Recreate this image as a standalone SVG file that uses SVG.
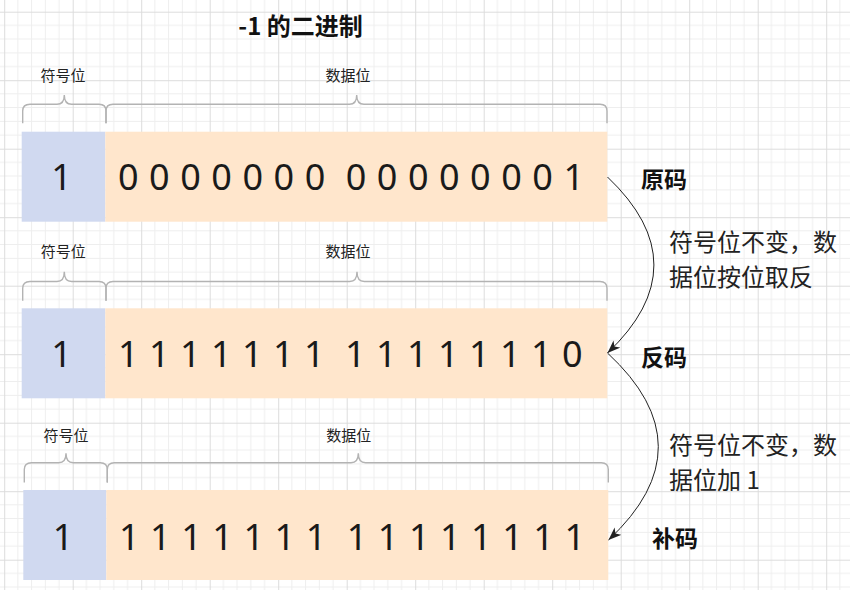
<svg xmlns="http://www.w3.org/2000/svg" width="850" height="590" viewBox="0 0 850 590">
  <style>
    .sign { fill: #D0D9F0; }
    .data { fill: #FFE6CC; }
    .bits { font-family: "Noto Sans", "Liberation Sans", sans-serif; font-size: 36px; fill: #1a1a1a; white-space: pre; }
    .brace { fill: none; stroke: #b3b3b3; stroke-width: 1.4; }
    .blabel { font-family: "Noto Sans CJK SC", "Noto Sans", sans-serif; font-size: 15px; fill: #222; text-anchor: middle; }
    .title { font-family: "Noto Sans CJK SC", "Noto Sans", sans-serif; font-size: 24px; font-weight: bold; fill: #111; text-anchor: middle; }
    .kind { font-family: "Noto Sans CJK SC", "Noto Sans", sans-serif; font-size: 23px; font-weight: bold; fill: #111; }
    .note { font-family: "Noto Sans CJK SC", "Noto Sans", sans-serif; font-size: 24px; fill: #222; }
    .conn { fill: none; stroke: #222; stroke-width: 1; }
  </style>
  <defs>
    <pattern id="grid" patternUnits="userSpaceOnUse" x="4.2" y="11.7" width="68.5" height="68.5">
      <path d="M13.7,0V68.5M27.4,0V68.5M41.1,0V68.5M54.8,0V68.5M0,13.7H68.5M0,27.4H68.5M0,41.1H68.5M0,54.8H68.5" stroke="#eeeeee" stroke-width="1" fill="none"/>
      <path d="M0.5,0V68.5M0,0.5H68.5" stroke="#dcdcdc" stroke-width="1" fill="none"/>
    </pattern>
    <marker id="arrow" markerUnits="userSpaceOnUse" markerWidth="16" markerHeight="12" refX="13" refY="5" orient="auto">
      <path d="M0,0 L13,5 L0,10 L3.5,5 z" fill="#222"/>
    </marker>
  </defs>
  <rect width="850" height="590" fill="#ffffff"/>
  <rect width="850" height="590" fill="url(#grid)"/>

  <g id="title">
    <text class="title" x="300.5" y="34.5">-1 的二进制</text>
  </g>

  <!-- Row 1: 原码 -->
  <g id="row1-sign-brace">
    <path class="brace" d="M22.7,123.3 V111 Q22.7,104.3 30,104.3 H57 Q64.3,104.3 64.3,95 Q64.3,104.3 71.6,104.3 H99 Q106,104.3 106,111 V123.3"/>
    <text class="blabel" x="63" y="80.5">符号位</text>
  </g>
  <g id="row1-data-brace">
    <path class="brace" d="M106,123.3 V111 Q106,104.3 113,104.3 H349.4 Q356.7,104.3 356.7,95 Q356.7,104.3 364,104.3 H600 Q607,104.3 607,111 V123.3"/>
    <text class="blabel" x="348" y="80.5">数据位</text>
  </g>
  <g id="row1-sign">
    <rect class="sign" x="21.7" y="131.7" width="83.6" height="90"/>
    <text class="bits" x="61.5" y="190" text-anchor="middle">1</text>
  </g>
  <g id="row1-data">
    <rect class="data" x="105.3" y="131.7" width="502" height="90"/>
    <text class="bits" x="118" y="190" textLength="466" lengthAdjust="spacing" xml:space="preserve">0 0 0 0 0 0 0  0 0 0 0 0 0 0 1</text>
  </g>
  <g id="label-yuanma">
    <text class="kind" x="641" y="188">原码</text>
  </g>

  <!-- Row 2: 反码 -->
  <g id="row2-sign-brace">
    <path class="brace" d="M22.7,300.7 V288.3 Q22.7,281.5 30,281.5 H57 Q64.3,281.5 64.3,271.7 Q64.3,281.5 71.6,281.5 H99 Q106,281.5 106,288.3 V300.7"/>
    <text class="blabel" x="63.2" y="257.2">符号位</text>
  </g>
  <g id="row2-data-brace">
    <path class="brace" d="M106,300.7 V288.3 Q106,281.5 113,281.5 H349.7 Q357,281.5 357,271.7 Q357,281.5 364.3,281.5 H600 Q607,281.5 607,288.3 V300.7"/>
    <text class="blabel" x="348" y="257.2">数据位</text>
  </g>
  <g id="row2-sign">
    <rect class="sign" x="21.7" y="308.3" width="83.6" height="90"/>
    <text class="bits" x="61.5" y="366.7" text-anchor="middle">1</text>
  </g>
  <g id="row2-data">
    <rect class="data" x="105.3" y="308.3" width="502" height="90"/>
    <text class="bits" x="118" y="366.7" textLength="464.5" lengthAdjust="spacing" xml:space="preserve">1 1 1 1 1 1 1  1 1 1 1 1 1 1 0</text>
  </g>
  <g id="label-fanma">
    <text class="kind" x="641" y="365.5">反码</text>
  </g>

  <!-- Row 3: 补码 -->
  <g id="row3-sign-brace">
    <path class="brace" d="M24.3,482.5 V469.6 Q24.3,462.8 31.5,462.8 H58.7 Q66,462.8 66,453.3 Q66,462.8 73.3,462.8 H100.3 Q107.3,462.8 107.3,469.6 V482.5"/>
    <text class="blabel" x="66" y="440.5">符号位</text>
  </g>
  <g id="row3-data-brace">
    <path class="brace" d="M107.3,482.5 V469.6 Q107.3,462.8 114.3,462.8 H351 Q358.3,462.8 358.3,453.3 Q358.3,462.8 365.6,462.8 H601.3 Q608.3,462.8 608.3,469.6 V482.5"/>
    <text class="blabel" x="348.7" y="440.5">数据位</text>
  </g>
  <g id="row3-sign">
    <rect class="sign" x="23.3" y="490" width="83" height="90"/>
    <text class="bits" x="63" y="550" text-anchor="middle">1</text>
  </g>
  <g id="row3-data">
    <rect class="data" x="106.3" y="490" width="502" height="90"/>
    <text class="bits" x="119" y="550" textLength="466" lengthAdjust="spacing" xml:space="preserve">1 1 1 1 1 1 1  1 1 1 1 1 1 1 1</text>
  </g>
  <g id="label-buma">
    <text class="kind" x="652" y="547">补码</text>
  </g>

  <!-- Connectors -->
  <g id="connectors">
    <path class="conn" d="M607.5,177 Q700.3,265 607.5,353" marker-end="url(#arrow)"/>
    <path class="conn" d="M607.5,353 Q708.6,446.5 608.5,540" marker-end="url(#arrow)"/>
  </g>
  <g id="note-1">
    <text class="note" x="669" y="251">符号位不变，数</text>
    <text class="note" x="669" y="285.7">据位按位取反</text>
  </g>
  <g id="note-2">
    <text class="note" x="669" y="454">符号位不变，数</text>
    <text class="note" x="669" y="489">据位加 1</text>
  </g>
</svg>
